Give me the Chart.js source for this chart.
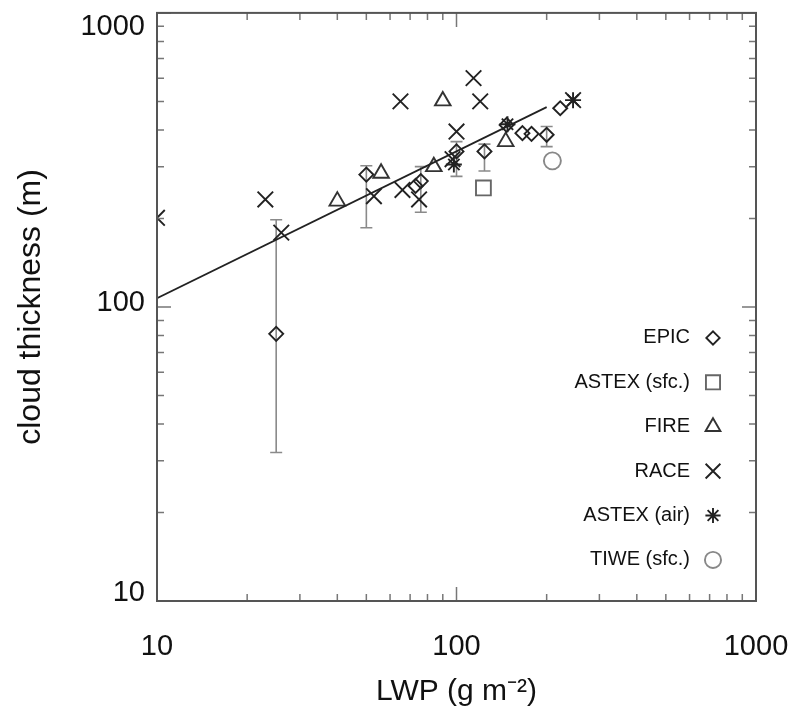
<!DOCTYPE html>
<html>
<head>
<meta charset="utf-8">
<title>Cloud thickness vs LWP</title>
<script src="https://cdn.jsdelivr.net/npm/chart.js@4.4.1/dist/chart.umd.min.js"></script>
<style>
    body { margin: 0; background: #fff; }
    .chart-container { position: relative; width: 794px; height: 711px; }
</style>
</head>
<body>
<div class="chart-container"><canvas id="myChart"></canvas></div>
<script>
// valeurs (LWP en g m-2, epaisseur en m)
const epicLwp  = [25, 50, 73, 76, 100, 124, 147, 166, 178, 200, 222];
const epicH    = [81, 282, 258, 268, 338, 338, 416, 390, 388, 385, 474];
const epicLow  = [32, 186, null, 210, 278, 290, null, null, null, 351, null];
const epicHigh = [198, 302, null, 300, 365, 358, null, null, null, 411, null];

const astexSfcLwp = [123];
const astexSfcH   = [254];

const fireLwp = [40, 56, 84, 90, 146];
const fireH   = [229, 285, 300, 502, 365];

const raceLwp = [10, 23, 26, 53, 65, 66, 75, 97, 100, 114, 120, 245];
const raceH   = [201, 232, 179, 238, 500, 250, 232, 318, 395, 600, 500, 505];

const astexAirLwp = [98, 148, 245];
const astexAirH   = [305, 418, 505];

const tiweLwp = [209];
const tiweH   = [314];

// droite d'ajustement
const fitLwp = [10, 200];
const fitH   = [107, 478];

const majorTicks = [10, 100, 1000];
const minorTicks = [20, 30, 40, 50, 60, 70, 80, 90, 200, 300, 400, 500, 600, 700, 800, 900];
const legendLabels = ['EPIC', 'ASTEX (sfc.)', 'FIRE', 'RACE', 'ASTEX (air)', 'TIWE (sfc.)'];

const FONT = "'Liberation Sans', Arial, Helvetica, sans-serif";

function pts(xs, ys) {
    return xs.map((v, i) => ({x: v, y: ys[i]}));
}

const markerSets = [
    {label: 'EPIC', data: pts(epicLwp, epicH), pointStyle: 'rectRot', pointRadius: 7, borderColor: '#222'},
    {label: 'ASTEX (sfc.)', data: pts(astexSfcLwp, astexSfcH), pointStyle: 'rect', pointRadius: 10.5, borderColor: '#666'},
    {label: 'FIRE', data: pts(fireLwp, fireH), pointStyle: 'triangle', pointRadius: 9, borderColor: '#333'},
    {label: 'RACE', data: pts(raceLwp, raceH), pointStyle: 'crossRot', pointRadius: 11, borderColor: '#222'},
    {label: 'ASTEX (air)', data: pts(astexAirLwp, astexAirH), pointStyle: 'star', pointRadius: 8, borderColor: '#222'},
    {label: 'TIWE (sfc.)', data: pts(tiweLwp, tiweH), pointStyle: 'circle', pointRadius: 8.5, borderColor: '#888'}
].map(d => Object.assign({
    type: 'scatter',
    backgroundColor: 'rgba(255,255,255,0)',
    pointBorderWidth: 1.9,
    pointHoverRadius: d.pointRadius
}, d, {pointBorderColor: d.borderColor}));

// barres d'erreur, cadre, graduations, legende
const decorPlugin = {
    id: 'decor',
    beforeDatasetsDraw(chart) {
        const {ctx, scales: {x, y}} = chart;
        ctx.save();
        ctx.strokeStyle = '#8a8a8a';
        ctx.lineWidth = 1.6;
        epicLwp.forEach((v, i) => {
            if (epicLow[i] == null) return;
            const px = x.getPixelForValue(v);
            const y1 = y.getPixelForValue(epicLow[i]);
            const y2 = y.getPixelForValue(epicHigh[i]);
            ctx.beginPath();
            ctx.moveTo(px, y1); ctx.lineTo(px, y2);
            ctx.moveTo(px - 6, y1); ctx.lineTo(px + 6, y1);
            ctx.moveTo(px - 6, y2); ctx.lineTo(px + 6, y2);
            ctx.stroke();
        });
        ctx.restore();
    },
    afterDraw(chart) {
        const {ctx, chartArea: a, scales: {x, y}} = chart;
        ctx.save();
        // graduations vers l'interieur
        ctx.strokeStyle = '#777';
        ctx.lineWidth = 1.5;
        const tick = (vals, len) => {
            vals.forEach(v => {
                const px = x.getPixelForValue(v);
                const py = y.getPixelForValue(v);
                ctx.beginPath();
                ctx.moveTo(px, a.bottom); ctx.lineTo(px, a.bottom - len);
                ctx.moveTo(px, a.top); ctx.lineTo(px, a.top + len);
                ctx.moveTo(a.left, py); ctx.lineTo(a.left + len, py);
                ctx.moveTo(a.right, py); ctx.lineTo(a.right - len, py);
                ctx.stroke();
            });
        };
        tick(minorTicks, 7);
        tick(majorTicks, 14);
        // cadre
        ctx.strokeStyle = '#555';
        ctx.lineWidth = 2;
        ctx.strokeRect(a.left, a.top, a.right - a.left, a.bottom - a.top);

        // etiquettes de l'axe y
        ctx.fillStyle = '#111';
        ctx.font = '29px ' + FONT;
        ctx.textAlign = 'right';
        ctx.textBaseline = 'middle';
        majorTicks.forEach(v => {
            let py = y.getPixelForValue(v) - 4;
            py = Math.min(Math.max(py, a.top + 14), a.bottom - 8);
            ctx.fillText(String(v), a.left - 12, py);
        });

        // legende
        ctx.font = '20px ' + FONT;
        const lx = a.right - 66, mx = a.right - 43;
        markerSets.forEach((d, i) => {
            const ly = a.top + 325 + i * 44.4;
            ctx.fillStyle = '#111';
            ctx.fillText(legendLabels[i], lx, ly);
            ctx.strokeStyle = d.pointBorderColor;
            ctx.fillStyle = 'rgba(255,255,255,0)';
            ctx.lineWidth = 1.9;
            Chart.helpers.drawPoint(ctx, {pointStyle: d.pointStyle, radius: d.pointRadius * 0.95, rotation: 0, borderWidth: 1.9}, mx, ly);
        });
        ctx.restore();
    }
};

const ctx = document.getElementById('myChart').getContext('2d');
const myChart = new Chart(ctx, {
    data: {
        datasets: [{
            type: 'line',
            label: 'fit',
            data: pts(fitLwp, fitH),
            borderColor: '#222',
            borderWidth: 1.8,
            pointRadius: 0,
            fill: false
        }].concat(markerSets)
    },
    options: {
        responsive: true,
        maintainAspectRatio: false,
        animation: false,
        layout: {padding: {top: 10, right: 38, left: 0, bottom: 0}},
        plugins: {legend: {display: false}, tooltip: {enabled: false}},
        scales: {
            x: {
                type: 'logarithmic',
                position: 'bottom',
                min: 10,
                max: 1000,
                afterBuildTicks: s => { s.ticks = majorTicks.map(v => ({value: v})); },
                afterFit: s => { s.height = 110; s.paddingLeft = 0; s.paddingRight = 0; },
                grid: {display: false, drawTicks: false},
                border: {display: false},
                ticks: {
                    color: '#111',
                    font: {family: FONT, size: 29},
                    padding: 29,
                    maxRotation: 0,
                    autoSkip: false,
                    callback: v => String(v)
                },
                title: {
                    display: true,
                    text: 'LWP (g m⁻²)',
                    color: '#111',
                    font: {family: FONT, size: 30, lineHeight: 1.2},
                    padding: {top: 0, bottom: 1}
                }
            },
            y: {
                type: 'logarithmic',
                position: 'left',
                min: 10,
                max: 1000,
                afterBuildTicks: s => { s.ticks = majorTicks.map(v => ({value: v})); },
                afterFit: s => { s.width = 157; },
                grid: {display: false, drawTicks: false},
                border: {display: false},
                ticks: {display: false},
                title: {
                    display: true,
                    text: 'cloud thickness (m)',
                    color: '#111',
                    font: {family: FONT, size: 32, lineHeight: 1.2},
                    padding: {top: 12, bottom: 0}
                }
            }
        }
    },
    plugins: [decorPlugin]
});
</script>
</body>
</html>
